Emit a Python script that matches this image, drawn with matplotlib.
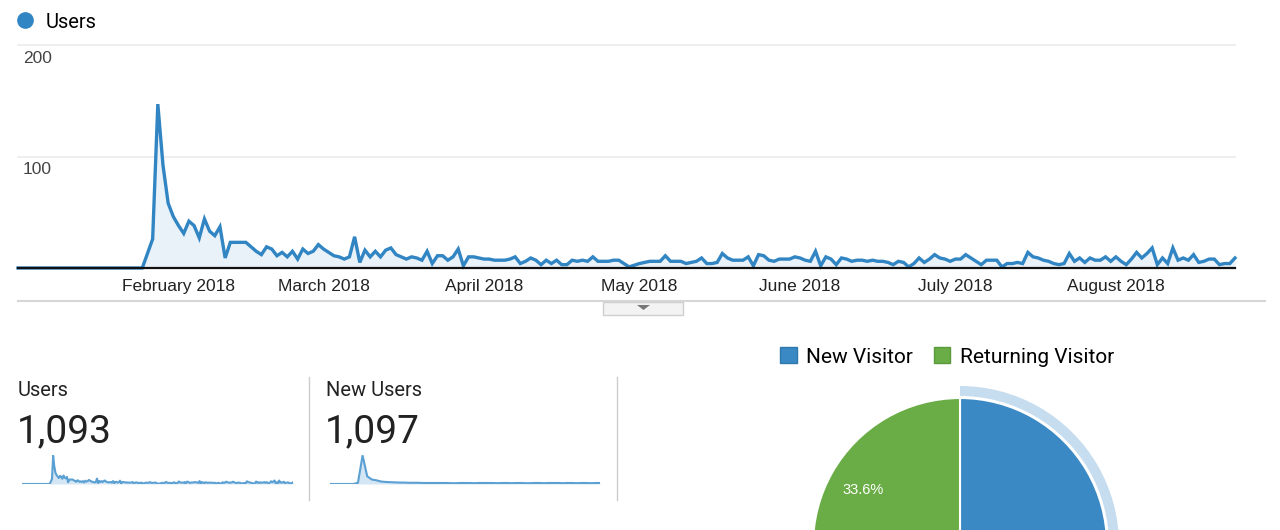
import numpy as np
import pandas as pd
import matplotlib
matplotlib.use('Agg')
import matplotlib.pyplot as plt
from matplotlib.patches import Wedge, Rectangle, Polygon, Patch
from matplotlib.lines import Line2D
from matplotlib.transforms import blended_transform_factory, ScaledTranslation

W, H = 1280, 530

# daily users, 2018-01-01 .. 2018-08-24
users = [0] * 25 + [
    13, 26, 147, 92, 58, 46, 38, 31, 42, 38, 27, 44, 33, 29, 37, 9, 23, 23, 23, 23,
    19, 15, 12, 19, 17, 11, 14, 10, 15, 8, 17, 13, 15, 21, 17, 14, 11, 10, 8, 10,
    28, 5, 16, 10, 15, 10, 16, 18, 12, 10, 8, 10, 9, 7, 15, 4, 11, 11, 7, 10,
    17, 2, 10, 10, 9, 8, 8, 7, 7, 7, 8, 10, 4, 6, 9, 7, 3, 7, 4, 7,
    3, 3, 7, 6, 7, 6, 10, 6, 6, 6, 7, 7, 4, 1, 2.5, 4, 5, 6, 6, 6,
    11, 6, 6, 6, 4, 5, 6, 9, 4, 4, 5, 13, 9, 7, 7, 7, 10, 2, 12, 11,
    7, 6, 8, 8, 8, 10, 9, 7, 6, 15, 2, 10, 8, 3, 9, 8, 6, 7, 7, 6,
    7, 6, 6, 5, 3, 6, 5, 1, 4, 9, 5, 8, 12, 9, 8, 6, 8, 8, 12, 9,
    6, 3, 7, 7, 7, 1, 4, 4, 5, 4, 14, 10, 9, 7, 6, 4, 3, 4, 13, 6,
    9, 5, 9, 7, 7, 10, 6, 10, 6, 3, 8, 14, 9, 13, 18, 3, 9, 4, 18, 7,
    9, 7, 12, 5, 6, 8, 8, 3, 4, 4, 9,
]
dates = pd.date_range('2018-01-01', periods=len(users), freq='D')
month_ticks = pd.date_range('2018-02-01', '2018-08-01', freq='MS')
y_ticks = [100, 200]

# new users, one value every 4 days
new_users_step = 4
new_users = [0, 0, 0, 0, 0, 0, 6, 140, 38, 22, 18, 12, 10, 9, 8, 7, 7, 6, 6, 6,
             5, 5, 5, 5, 5, 5, 4, 4, 5, 5, 5, 4, 5, 5, 5, 5, 4, 5, 5, 4,
             5, 5, 4, 4, 5, 5, 4, 5, 5, 5, 4, 5, 5, 4, 5, 5, 4, 5, 5]

kpi_names = ['Users', 'New Users']
kpi_values = ['1,093', '1,097']

pie_labels = ['New Visitor', 'Returning Visitor']
pie_values = [66.4, 33.6]

BLUE = '#3a89c4'
LINE_BLUE = '#3185c3'
GREEN = '#6aad46'
FILL = '#e9f1f9'
TEXT = '#222222'

plt.rcParams['font.family'] = ['Liberation Sans', 'DejaVu Sans']


def px_rect(x0, y0, x1, y1):
    return [x0 / W, 1 - y1 / H, (x1 - x0) / W, (y1 - y0) / H]


fig = plt.figure(figsize=(W / 100, H / 100), dpi=100)

# overlay in pixel coords for separators / text
bg = fig.add_axes([0, 0, 1, 1], zorder=0)
bg.set_xlim(0, W)
bg.set_ylim(H, 0)
bg.axis('off')

# ---- main users chart
ax = fig.add_axes(px_rect(18, 45, 1235, 268), zorder=2)
ax.patch.set_alpha(0)
ax.fill_between(dates, users, 0, color=FILL, lw=0)
ax.plot(dates, users, color=LINE_BLUE, lw=2.4, solid_joinstyle='miter',
        clip_on=False, zorder=3)
ax.set_xlim(dates[0], dates[-1])
ax.set_ylim(0, 200)
for v in y_ticks:
    ax.axhline(v, color='#ebebeb', lw=1.2, zorder=0, clip_on=False)
ax.axhline(0, color='#111111', lw=1.6, zorder=4, clip_on=False)
for s in ax.spines.values():
    s.set_visible(False)
ax.set_yticks([])
ax.set_xticks(month_ticks)
ax.set_xticklabels([d.strftime('%B %Y') for d in month_ticks],
                   fontsize=12.5, color=TEXT)
ax.tick_params(axis='x', length=0, pad=8)
ytrans = blended_transform_factory(ax.transAxes, ax.transData)
for v in y_ticks:
    ax.text(0, v, str(v), transform=ytrans + ScaledTranslation(3.5 / 72, -4 / 72, fig.dpi_scale_trans),
            ha='left', va='top', fontsize=12.5, color='#444444')

top_handle = Line2D([], [], marker='o', ls='none', color=LINE_BLUE, markersize=11)
fig.legend([top_handle], ['Users'], loc='center left',
           bbox_to_anchor=(5 / W, 1 - 22 / H), frameon=False,
           handletextpad=0.0, borderaxespad=0, borderpad=0,
           prop={'family': 'Roboto', 'size': 14.5})

# separator + collapse tab
bg.plot([18, 1265], [301, 301], color='#d6d6d6', lw=1.5)
bg.add_patch(Rectangle((603, 302), 80, 13, facecolor='#f3f3f3',
                       edgecolor='#cfcfcf', lw=1))
bg.add_patch(Polygon([[637, 305], [650, 305], [643.5, 310]], closed=True,
                     facecolor='#777777', edgecolor='none'))

# ---- KPI blocks with sparklines
kpi_x = [18, 326]
spark_x = [(22, 293), (330, 600)]
for name, val, x0 in zip(kpi_names, kpi_values, kpi_x):
    bg.text(x0, 390, name, ha='left', va='center', fontsize=14.5, color=TEXT,
            family='Roboto')
    bg.text(x0 - 1, 432, val, ha='left', va='center', fontsize=28, color=TEXT,
            family='Roboto')
for sx in [309, 617]:
    bg.plot([sx, sx], [377, 500], color='#cccccc', lw=1)

series = [(np.arange(len(users)), users),
          (np.arange(len(new_users)) * new_users_step, new_users)]
for (x0, x1), (xs, ys) in zip(spark_x, series):
    sp = fig.add_axes(px_rect(x0, 455, x1, 484), zorder=2)
    sp.fill_between(xs, ys, 0, color='#d4e5f4', lw=0)
    sp.plot(xs, ys, color='#4b97cf', lw=1.5, alpha=0.9)
    sp.set_xlim(xs[0], xs[-1])
    sp.set_ylim(0, max(ys) * 1.02)
    sp.axis('off')

# ---- pie chart (cut off at the bottom edge)
cx, cy, R = 960, 545, 147
pad = 175
pa = fig.add_axes(px_rect(cx - pad, cy - pad, cx + pad, cy + pad), zorder=2)
wedges, _, autotexts = pa.pie(pie_values, colors=[BLUE, GREEN], radius=R,
                              startangle=90, counterclock=False,
                              autopct='%1.1f%%', pctdistance=0.76,
                              wedgeprops={'edgecolor': 'white', 'lw': 1.5},
                              textprops={'color': 'white', 'fontsize': 10.5})
# the New Visitor label sits below the visible area in the reference
autotexts[0].set_visible(False)
theta_end = 90 - 360 * pie_values[0] / sum(pie_values)
pa.add_patch(Wedge((0, 0), 159, theta_end, 90, width=10,
                   facecolor='#c6dcef', edgecolor='none'))
pa.set_xlim(-pad, pad)
pa.set_ylim(-pad, pad)
pa.set_aspect('equal')
pa.axis('off')

fig.legend([Patch(facecolor=BLUE, edgecolor='#2f78ad'),
            Patch(facecolor=GREEN, edgecolor='#5a9a3a')], pie_labels,
           ncol=2, loc='center left', bbox_to_anchor=(780 / W, 1 - 357 / H),
           frameon=False, handlelength=0.8, handleheight=0.8,
           handletextpad=0.45, columnspacing=1.0, borderaxespad=0, borderpad=0,
           prop={'family': 'Roboto', 'size': 15})

fig.savefig('out.png', dpi=100)
